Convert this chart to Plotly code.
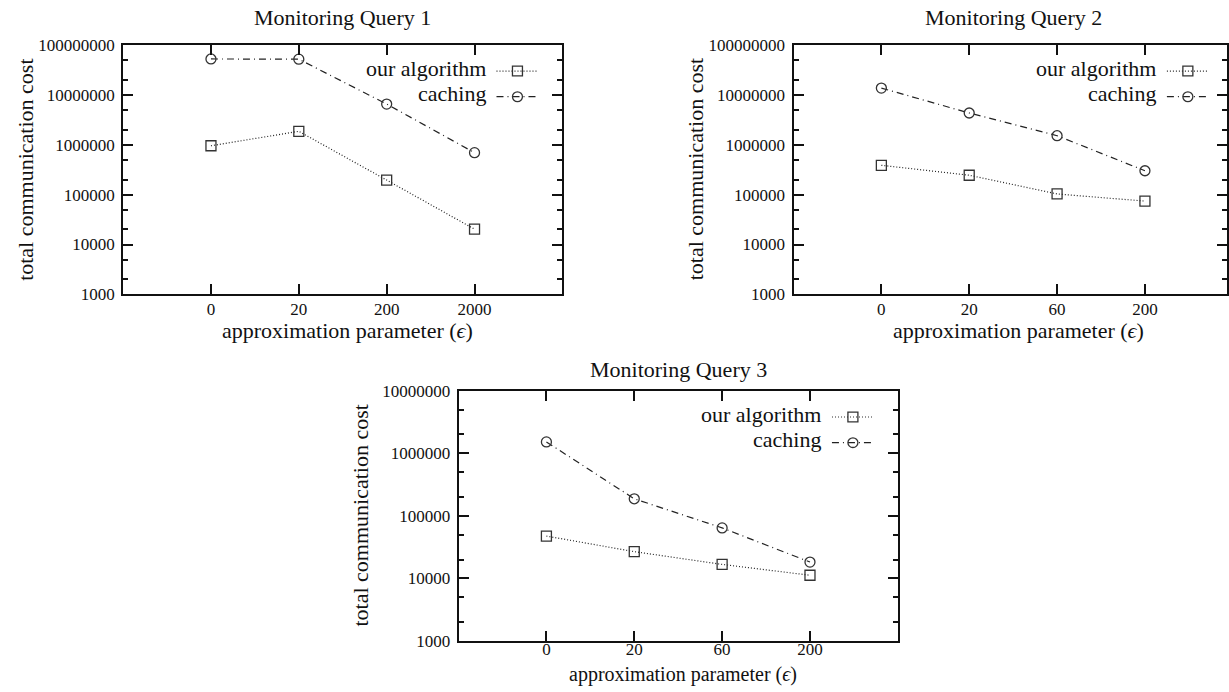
import plotly.graph_objects as go

# ---------------- data ----------------
eps_q1 = ["0", "20", "200", "2000"]
eps_q23 = ["0", "20", "60", "200"]

q1_ours = [950000, 1850000, 195000, 20300]
q1_caching = [52000000, 51500000, 6500000, 690000]

q2_ours = [386000, 244000, 103000, 74000]
q2_caching = [13600000, 4300000, 1510000, 300000]

q3_ours = [47400, 26700, 16700, 11200]
q3_caching = [1520000, 187000, 64000, 18200]

titles = ["Monitoring Query 1", "Monitoring Query 2", "Monitoring Query 3"]
series_names = ["our algorithm", "caching"]
x_title = "approximation parameter (<i>ϵ</i>)"
y_title = "total communication cost"

ytick_vals_8 = [1e3, 1e4, 1e5, 1e6, 1e7, 1e8]
ytick_text_8 = ["1000", "10000", "100000", "1000000", "10000000", "100000000"]
ytick_vals_7 = [1e3, 1e4, 1e5, 1e6, 1e7]
ytick_text_7 = ["1000", "10000", "100000", "1000000", "10000000"]
minor_vals = [m * 10 ** e for e in range(3, 8) for m in (2, 5)]

# ---------------- layout geometry (pixels) ----------------
W, H = 1229, 692
FONT = "Liberation Serif, Times New Roman, serif"
INK = "#111111"


def py(y_px):
    """pixel row (from top) -> paper y"""
    return 1 - y_px / H


panels = [
    dict(x0=123.3, y0=36.8, y1=293.5, xr=[-1, 4], yr=[3, 8], title_y=9.0, xt_y=331.0,
         xstand=-2),
    dict(x0=794.8, y0=36.8, y1=293.5, xr=[-1, 4 - (1234.8 - 1229.0) / 88.0], yr=[3, 8],
         title_y=9.0, xt_y=331.0, xstand=-2),
    dict(x0=459.3, y0=392.5, y1=649.7, xr=[-1, 4], yr=[3, 7], title_y=370.5, xt_y=None,
         xstand=-8),
]
data = [
    (eps_q1, q1_ours, q1_caching, ytick_vals_8, ytick_text_8),
    (eps_q23, q2_ours, q2_caching, ytick_vals_8, ytick_text_8),
    (eps_q23, q3_ours, q3_caching, ytick_vals_7, ytick_text_7),
]
PANEL_W = 440.0

DOT = "1px,2px"
DASHDOT = "7px,4px,1px,4px"
LINE_C = "#222222"
MARK_C = "#333333"

fig = go.Figure()
annotations = []
shapes = []

for i, (p, d) in enumerate(zip(panels, data)):
    eps, ours, cach, tv, tt = d
    n = "" if i == 0 else str(i + 1)
    xa, ya = "x" + n, "y" + n
    fig.add_trace(go.Scatter(
        x=eps, y=ours, xaxis=xa, yaxis=ya, mode="lines+markers",
        name=series_names[0], showlegend=False,
        line=dict(color=LINE_C, width=1.2, dash=DOT),
        marker=dict(symbol="square-open", size=10, color=MARK_C,
                    line=dict(width=1.3, color=MARK_C)),
    ))
    fig.add_trace(go.Scatter(
        x=eps, y=cach, xaxis=xa, yaxis=ya, mode="lines+markers",
        name=series_names[1], showlegend=False,
        line=dict(color=LINE_C, width=1.2, dash=DASHDOT),
        marker=dict(symbol="circle-open", size=10, color=MARK_C,
                    line=dict(width=1.3, color=MARK_C)),
    ))
    x1 = p["x0"] + PANEL_W
    xdom = [p["x0"] / W, min(x1 / W, 1.0)]
    ydom = [py(p["y1"]), py(p["y0"])]
    axis_common = dict(
        showline=True, linecolor=INK, linewidth=2, mirror="ticks",
        ticks="inside", ticklen=10, tickwidth=1.5, tickcolor=INK,
        showgrid=False, zeroline=False,
        tickfont=dict(family=FONT, size=17, color=INK),
    )
    fig.update_layout(**{
        "xaxis" + n: dict(
            domain=xdom, anchor=ya, type="category",
            categoryorder="array", categoryarray=eps,
            range=p["xr"], ticklabelstandoff=p["xstand"], **axis_common),
        "yaxis" + n: dict(
            domain=ydom, anchor=xa, type="log", range=p["yr"],
            tickvals=tv, ticktext=tt, ticklabelstandoff=3,
            minor=dict(tickvals=minor_vals, ticks="inside", ticklen=5,
                       tickwidth=1.5, tickcolor=INK, showgrid=False),
            **axis_common),
    })

    cx = (p["x0"] + PANEL_W / 2) / W
    # title
    annotations.append(dict(
        text=titles[i], xref="paper", yref="paper", x=cx, y=py(p["title_y"]),
        xanchor="center", yanchor="middle", showarrow=False,
        font=dict(family=FONT, size=22, color=INK)))
    # x title
    if p["xt_y"] is not None:
        annotations.append(dict(
            text=x_title, xref="paper", yref="paper", x=cx + 5 / W, y=py(p["xt_y"]),
            xanchor="center", yanchor="middle", showarrow=False,
            font=dict(family=FONT, size=22, color=INK)))
    else:
        annotations.append(dict(
            text=x_title, xref="paper", yref="paper", x=cx + 5 / W, y=0.0,
            xanchor="center", yanchor="bottom", yshift=-6, showarrow=False,
            font=dict(family=FONT, size=20, color=INK)))
    # y title
    annotations.append(dict(
        text=y_title, xref="paper", yref="paper", x=(p["x0"] - 98) / W,
        y=py((p["y0"] + p["y1"]) / 2), textangle=-90,
        xanchor="center", yanchor="middle", showarrow=False,
        font=dict(family=FONT, size=22, color=INK)))

    # manual key: text right-aligned, sample on the right (gnuplot style)
    for k, (name, dash) in enumerate(zip(series_names, [DOT, DASHDOT])):
        ky = p["y0"] + 27 + 26.4 * k
        annotations.append(dict(
            text=name, xref="paper", yref="paper", x=(x1 - 75) / W,
            y=py(ky - 3), xanchor="right", yanchor="middle", showarrow=False,
            font=dict(family=FONT, size=22, color=INK)))
        shapes.append(dict(
            type="line", xref="paper", yref="paper",
            x0=(x1 - 66) / W, x1=(x1 - 24) / W, y0=py(ky), y1=py(ky),
            line=dict(color=LINE_C, width=1.2, dash=dash)))
        mx, my = (x1 - 45) / W, py(ky)
        shapes.append(dict(
            type="rect" if k == 0 else "circle", xref="paper", yref="paper",
            x0=mx - 5 / W, x1=mx + 5 / W, y0=my - 5 / H, y1=my + 5 / H,
            line=dict(color=MARK_C, width=1.3)))

fig.update_layout(
    width=W, height=H, margin=dict(l=0, r=0, t=0, b=0),
    paper_bgcolor="white", plot_bgcolor="white",
    annotations=annotations, shapes=shapes, showlegend=False,
    font=dict(family=FONT, color=INK),
)

fig.write_html("out.html")
